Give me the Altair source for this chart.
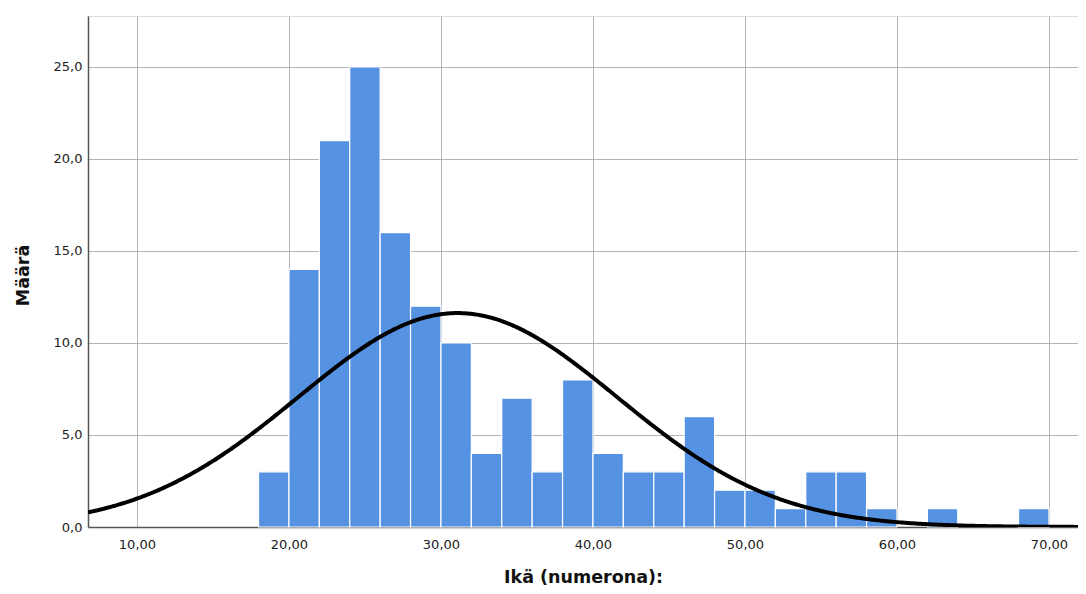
import altair as alt
import pandas as pd

# Histogram bins (age, width 2) and counts
bin_start = [18, 20, 22, 24, 26, 28, 30, 32, 34, 36, 38, 40, 42, 44, 46, 48,
             50, 52, 54, 56, 58, 60, 62, 64, 66, 68]
counts = [3, 14, 21, 25, 16, 12, 10, 4, 7, 3, 8, 4, 3, 3, 6, 2,
          2, 1, 3, 3, 1, 0, 1, 0, 0, 1]
bin_width = 2

# Fitted normal curve parameters
curve_mean = 31.1
curve_sd = 10.5
n_total = sum(counts)

x_ticks = [10, 20, 30, 40, 50, 60, 70]
y_ticks = [0, 5, 10, 15, 20, 25]
x_domain = [6.78, 71.91]
y_domain = [0, 27.77]

bars_df = pd.DataFrame({
    "start": bin_start,
    "end": [b + bin_width for b in bin_start],
    "count": counts,
    "base": [0] * len(bin_start),
})
bars_df = bars_df[bars_df["count"] > 0]

font = "DejaVu Sans"
grid_color = "#b4b4b4"

x_scale = alt.Scale(domain=x_domain, nice=False, zero=False)
y_scale = alt.Scale(domain=y_domain, nice=False)

x_axis = alt.Axis(
    values=x_ticks, grid=True, gridColor=grid_color, gridWidth=1,
    ticks=False, domainColor="#555555", domainWidth=1.5,
    labelExpr="replace(format(datum.value, '.2f'), '.', ',')",
    labelFont=font, labelFontSize=13, labelColor="#222222", labelPadding=11,
    title="Ikä (numerona):", titleFont=font, titleFontSize=17.5,
    titleFontWeight="bold", titleColor="#111111", titlePadding=17,
)
y_axis = alt.Axis(
    values=y_ticks, grid=True, gridColor=grid_color, gridWidth=1,
    ticks=False, domainColor="#555555", domainWidth=1.5,
    labelExpr="replace(format(datum.value, '.1f'), '.', ',')",
    labelFont=font, labelFontSize=13, labelColor="#222222", labelPadding=6,
    title="Määrä", titleFont=font, titleFontSize=17.5,
    titleFontWeight="bold", titleColor="#111111", titleX=-56, titleY=259,
)

bars = alt.Chart(bars_df).mark_bar(
    color="#5592E2", stroke="white", strokeWidth=1.2
).encode(
    x=alt.X("start:Q", scale=x_scale, axis=x_axis),
    x2="end:Q",
    y=alt.Y("count:Q", scale=y_scale, axis=y_axis),
    y2="base:Q",
)

curve = alt.Chart(
    alt.sequence(start=x_domain[0], stop=x_domain[1] + 0.1, step=0.1, as_="x")
).transform_calculate(
    y=f"{n_total} * {bin_width} / ({curve_sd} * sqrt(2 * PI)) * "
      f"exp(-0.5 * pow((datum.x - {curve_mean}) / {curve_sd}, 2))"
).mark_line(color="black", strokeWidth=4, clip=True).encode(
    x=alt.X("x:Q", scale=x_scale),
    y=alt.Y("y:Q", scale=y_scale),
)

chart = alt.layer(bars, curve).properties(
    width=990, height=511,
    autosize=alt.AutoSizeParams(type="none"),
    padding={"left": 80, "top": 8, "right": 0, "bottom": 59},
).configure_view(stroke=None).configure(background="white")

chart.save("out.html", embed_options={"renderer": "svg", "actions": False})
